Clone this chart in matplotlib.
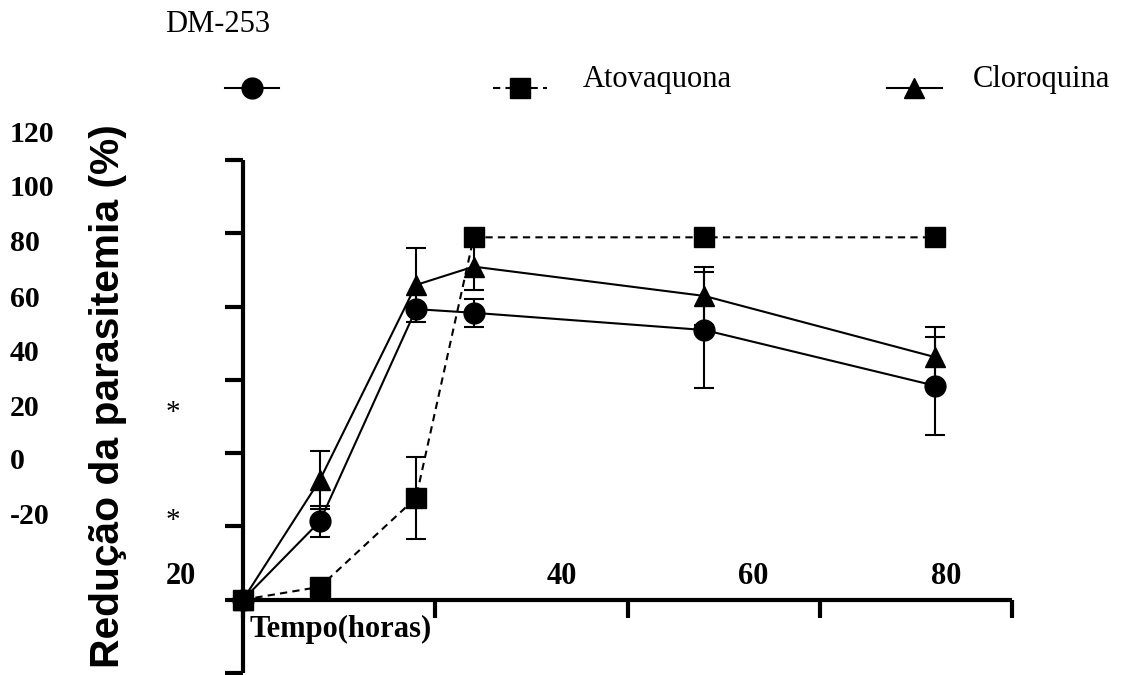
import matplotlib
matplotlib.use("Agg")
import matplotlib.pyplot as plt
from matplotlib.lines import Line2D

# ---- data ----
tempo = [0, 8, 18, 24, 48, 72]
dm253 = [0, 21.4, 79.3, 78.3, 73.6, 58.4]
dm253_err = [0, 4.3, 0, 3.8, 15.8, 13.4]
atovaquona = [0, 3.5, 27.8, 98.9, 98.9, 98.9]
atovaquona_err = [0, 0, 11.2, 0, 0, 0]
cloroquina = [0, 32.7, 85.9, 90.9, 82.9, 66.2]
cloroquina_err = [0, 7.9, 10.0, 6.3, 8.0, 8.3]

x_ticks = [0, 20, 40, 60, 80]
y_ticks = [-20, 0, 20, 40, 60, 80, 100, 120]
y_tick_labels = ["120", "100", "80", "60", "40", "20", "0", "-20"]
x_tick_labels = ["20", "40", "60", "80"]
legend_labels = ["", "Atovaquona", "Cloroquina"]

W, H = 1122, 675
fig = plt.figure(figsize=(W / 100, H / 100), dpi=100)
fig.patch.set_facecolor("white")

ax = fig.add_axes([243 / W, 1 - 673 / H, (1012 - 243) / W, (673 - 160) / H])
ax.set_xlim(0, 80)
ax.set_ylim(-20, 120)
ax.patch.set_alpha(0)

ax.spines["top"].set_visible(False)
ax.spines["right"].set_visible(False)
ax.spines["bottom"].set_position(("data", 0))
for s in ("left", "bottom"):
    ax.spines[s].set_linewidth(3)
    ax.spines[s].set_capstyle("butt")
ax.set_xticks(x_ticks)
ax.set_yticks(y_ticks)
ax.tick_params(direction="out", length=13, width=3, labelleft=False, labelbottom=False)

kw = dict(color="black", lw=1.5, elinewidth=1.5, capsize=7.2, capthick=1.5, clip_on=False)
ax.errorbar(tempo, atovaquona, yerr=atovaquona_err, fmt="s", ms=14,
            linestyle=(0, (3.5, 2.5)), zorder=3, **kw)
ax.errorbar(tempo, cloroquina, yerr=cloroquina_err, fmt="^", ms=15,
            linestyle="-", zorder=4, **kw)
ax.errorbar(tempo, dm253, yerr=dm253_err, fmt="o", ms=15,
            linestyle="-", zorder=5, **kw)

# overlay in pixel coordinates for texts and legend
ov = fig.add_axes([0, 0, 1, 1])
ov.set_xlim(0, W)
ov.set_ylim(H, 0)
ov.axis("off")
ov.patch.set_alpha(0)

serif = "Liberation Serif"
ov.text(165, 32, "DM-253", family=serif, fontsize=22, va="baseline", ha="left")

# legend samples
ov.add_line(Line2D([225, 279], [88, 88], color="black", lw=1.5))
ov.add_line(Line2D([252], [88], marker="o", ms=15, color="black"))
ov.add_line(Line2D([493, 547], [88, 88], color="black", lw=1.5, linestyle=(0, (3.5, 2.5))))
ov.add_line(Line2D([520], [88], marker="s", ms=14, color="black"))
ov.add_line(Line2D([887, 942], [88, 88], color="black", lw=1.5))
ov.add_line(Line2D([914], [88], marker="^", ms=15, color="black"))
ov.text(583, 87, legend_labels[1], family=serif, fontsize=22, va="baseline", ha="left")
ov.text(973, 87, legend_labels[2], family=serif, fontsize=22, va="baseline", ha="left")

# y tick labels (offset as in the original)
y_base = [142, 196, 251, 307, 361, 416, 469, 524]
for lab, yb in zip(y_tick_labels, y_base):
    ov.text(10, yb, lab, family=serif, fontweight="bold", fontsize=21.5,
            va="baseline", ha="left")
ov.text(173, 420, "*", family=serif, fontsize=21, va="baseline", ha="center")
ov.text(173, 528, "*", family=serif, fontsize=21, va="baseline", ha="center")

# x tick labels
x_centers = [181, 562, 753, 946]
for lab, xc in zip(x_tick_labels, x_centers):
    ov.text(xc, 584, lab, family=serif, fontweight="bold", fontsize=22,
            va="baseline", ha="center")
ov.text(250, 637, "Tempo(horas)", family=serif, fontweight="bold", fontsize=22,
        va="baseline", ha="left")

ov.text(108, 396, "Redução da parasitemia (%)", family="Liberation Sans",
        fontweight="bold", fontsize=29.3, rotation=90, va="center", ha="center")

fig.savefig("out.png", dpi=100)
